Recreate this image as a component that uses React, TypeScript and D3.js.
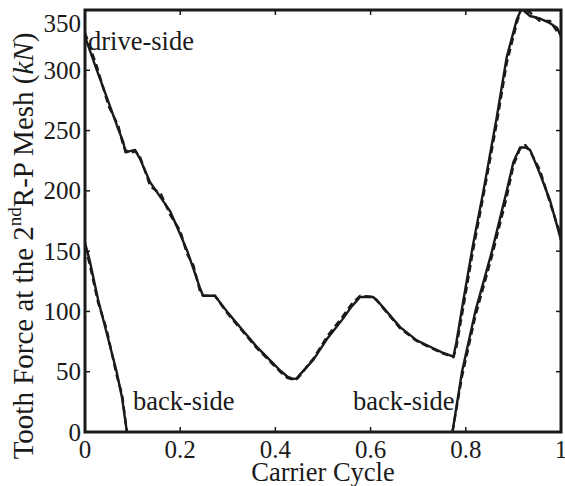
import React from "react";
import * as d3 from "d3";

// Drive-side tooth force over one carrier cycle (solid and dashed runs)
const driveX = [0, 0.025, 0.05, 0.07, 0.08, 0.085, 0.095, 0.105, 0.115, 0.137, 0.16, 0.179, 0.2, 0.214, 0.228, 0.242, 0.248, 0.273, 0.3, 0.33, 0.36, 0.39, 0.41, 0.425, 0.437, 0.445, 0.45, 0.48, 0.51, 0.54, 0.56, 0.578, 0.605, 0.613, 0.662, 0.697, 0.725, 0.75, 0.774, 0.78, 0.795, 0.815, 0.837, 0.865, 0.886, 0.907, 0.917, 0.935, 0.955, 0.977, 0.992, 1];
const driveSolid = [328, 300, 273, 251, 241, 232, 233, 234, 227, 207, 194, 183, 164, 151, 135, 119, 113, 113, 99, 85, 71, 59, 51, 46, 44, 44.5, 47, 60, 78, 93, 104, 112, 112, 109.5, 87, 76, 70.7, 66, 62.5, 74, 109.5, 155, 200, 261, 311, 342, 351, 345, 343, 339, 335, 328];
const driveDashed = [331, 303, 270, 254, 238, 234, 231, 233, 229, 204, 197, 180, 167, 148, 138, 116, 113, 113, 98, 84, 70, 58, 50, 45, 43.5, 44, 46, 61, 80, 95, 106, 113, 112, 109, 86, 75.5, 70, 65.5, 62, 70, 104, 150, 196, 256, 306, 339, 352, 348, 341, 341, 332, 331];

// Back-side force: leaving mesh early in the cycle
const backLeftX = [0, 0.01, 0.0277, 0.045, 0.0665, 0.078, 0.088];
const backLeftSolid = [157, 142, 109.5, 83, 50, 28, 0];
const backLeftDashed = [154, 139, 107, 86, 47, 31, 0];

// Back-side force: re-entering mesh late in the cycle
const backRightX = [0.772, 0.792, 0.82, 0.855, 0.886, 0.9, 0.914, 0.925, 0.935, 0.956, 0.977, 0.998, 1];
const backRightSolid = [0, 50, 100, 150, 200, 224, 236, 236, 234, 214, 192, 162, 159];
const backRightDashed = [0, 46, 96, 146, 195, 221, 235, 238, 233, 217, 190, 165, 160];

const xTicks = [0, 0.2, 0.4, 0.6, 0.8, 1];
const xTickLabels = ["0", "0.2", "0.4", "0.6", "0.8", "1"];
const yTicks = [0, 50, 100, 150, 200, 250, 300, 350];

const W = 565;
const H = 486;
const plot = { left: 85, right: 561, top: 10, bottom: 432 };
const FONT = "'Liberation Serif', 'Times New Roman', Times, serif";
const INK = "#1a1a1a";

export default function App() {
  const x = d3.scaleLinear().domain([0, 1]).range([plot.left, plot.right]);
  const y = d3.scaleLinear().domain([0, 350]).range([plot.bottom, plot.top]);

  const line = (xs: number[], vs: number[]) =>
    d3.line<number>()
      .x((_, i) => x(xs[i]))
      .y((v) => y(v))(vs) || "";

  const series = [
    { xs: driveX, solid: driveSolid, dashed: driveDashed },
    { xs: backLeftX, solid: backLeftSolid, dashed: backLeftDashed },
    { xs: backRightX, solid: backRightSolid, dashed: backRightDashed },
  ];

  const tickLen = 5;

  return (
    <svg
      width={W}
      height={H}
      style={{ position: "absolute", left: 0, top: 0, background: "#fff", fontFamily: FONT }}
    >
      <defs>
        <clipPath id="plot-area">
          <rect x={plot.left} y={plot.top} width={plot.right - plot.left} height={plot.bottom - plot.top} />
        </clipPath>
      </defs>

      <g clipPath="url(#plot-area)" fill="none" stroke={INK} strokeLinejoin="round">
        {series.map((s, i) => (
          <g key={i}>
            <path d={line(s.xs, s.dashed)} strokeWidth={2.4} strokeDasharray="7 4" />
            <path d={line(s.xs, s.solid)} strokeWidth={2.4} />
          </g>
        ))}
      </g>

      {/* ticks on all four sides, pointing inward */}
      <g stroke={INK} strokeWidth={1.5}>
        {xTicks.map((t) => (
          <g key={"xt" + t}>
            <line x1={x(t)} x2={x(t)} y1={plot.bottom} y2={plot.bottom - tickLen} />
            <line x1={x(t)} x2={x(t)} y1={plot.top} y2={plot.top + tickLen} />
          </g>
        ))}
        {yTicks.map((t) => (
          <g key={"yt" + t}>
            <line x1={plot.left} x2={plot.left + tickLen} y1={y(t)} y2={y(t)} />
            <line x1={plot.right} x2={plot.right - tickLen} y1={y(t)} y2={y(t)} />
          </g>
        ))}
      </g>

      <rect
        x={plot.left}
        y={plot.top}
        width={plot.right - plot.left}
        height={plot.bottom - plot.top}
        fill="none"
        stroke={INK}
        strokeWidth={3}
      />

      <g fontSize={25} fill={INK} style={{ fontFamily: FONT }}>
        {xTicks.map((t, i) => (
          <text key={"xl" + t} x={x(t)} y={458} textAnchor="middle">
            {xTickLabels[i]}
          </text>
        ))}
        {yTicks.map((t) => (
          <text
            key={"yl" + t}
            x={plot.left - 4}
            y={y(t) + (t === 350 ? 13 : 0)}
            textAnchor="end"
            dominantBaseline="central"
          >
            {t}
          </text>
        ))}
      </g>

      <text
        x={(plot.left + plot.right) / 2}
        y={481}
        textAnchor="middle"
        fontSize={26.5}
        fill={INK}
        style={{ fontFamily: FONT }}
      >
        Carrier Cycle
      </text>

      <text
        transform={`translate(33, ${246}) rotate(-90)`}
        textAnchor="middle"
        fontSize={29}
        fill={INK}
        style={{ fontFamily: FONT }}
      >
        Tooth Force at the 2
        <tspan fontSize={19} dy={-12}>nd</tspan>
        <tspan dy={12}>R-P Mesh (</tspan>
        <tspan fontStyle="italic">kN</tspan>
        <tspan>)</tspan>
      </text>

      <g fontSize={26.5} fill={INK} style={{ fontFamily: FONT }}>
        <text x={88} y={50}>drive-side</text>
        <text x={133} y={410}>back-side</text>
        <text x={353} y={410}>back-side</text>
      </g>
    </svg>
  );
}
